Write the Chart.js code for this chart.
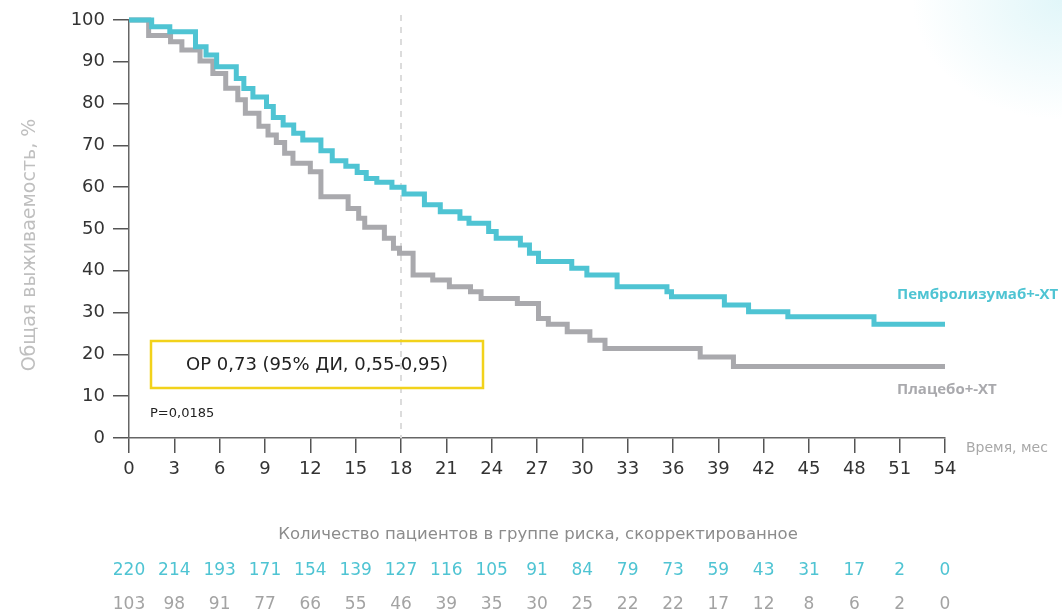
<!DOCTYPE html>
<html>
<head>
<meta charset="utf-8">
<script src="https://cdn.jsdelivr.net/npm/chart.js@4/dist/chart.umd.min.js"></script>
<style>
  html, body { margin: 0; padding: 0; width: 1062px; height: 612px; overflow: hidden;
    background: radial-gradient(ellipse 150px 120px at 1062px 0px, rgba(205,240,245,0.6), rgba(255,255,255,0) 100%), #ffffff; }
  #wrap { position: absolute; left: 0; top: 0; width: 1062px; height: 612px; }
</style>
</head>
<body>
<div id="wrap"><canvas id="c" width="1062" height="612"></canvas></div>
<script>
// ---- data ----
const months = [0,3,6,9,12,15,18,21,24,27,30,33,36,39,42,45,48,51,54];
const yTicks = [0,10,20,30,40,50,60,70,80,90,100];

const pembroTimes = [0,1.5,2.7,4.4,5.1,5.8,7.1,7.6,8.2,9.1,9.55,10.2,10.9,11.5,12.7,13.45,14.35,15.1,15.7,16.4,17.4,18.2,19.55,20.6,21.9,22.5,23.8,24.3,25.9,26.5,27.1,29.3,30.3,32.3,35.6,35.9,39.4,41.0,43.6,49.3,54];
const pembroSurv  = [100,98.4,97.2,93.6,91.6,88.8,86.0,83.6,81.6,79.3,76.7,74.9,72.9,71.3,68.7,66.3,65.0,63.5,62.1,61.2,60.0,58.4,55.8,54.1,52.6,51.4,49.4,47.8,46.2,44.2,42.2,40.6,39.0,36.2,35.0,33.8,31.8,30.2,29.0,27.2,27.2];

const placeboTimes = [0,1.3,2.75,3.5,4.7,5.55,6.4,7.2,7.7,8.6,9.2,9.75,10.3,10.85,12.0,12.7,14.5,15.2,15.6,16.9,17.5,17.9,18.8,20.1,21.2,22.6,23.3,25.7,27.1,27.75,29.0,30.5,31.5,37.8,40.0,54];
const placeboSurv  = [100,96.3,94.8,92.8,90.2,87.2,83.7,80.9,77.7,74.6,72.5,70.7,68.1,65.7,63.7,57.7,54.9,52.6,50.4,47.8,45.4,44.2,39.0,37.8,36.2,35.0,33.4,32.2,28.6,27.2,25.4,23.4,21.4,19.4,17.1,17.1];

const riskPembro  = [220,214,193,171,154,139,127,116,105,91,84,79,73,59,43,31,17,2,0];
const riskPlacebo = [103,98,91,77,66,55,46,39,35,30,25,22,22,17,12,8,6,2,0];

const landmarkMonth = 18;
const seriesNames = ['Пембролизумаб+-ХТ', 'Плацебо+-ХТ'];
const yTitle = 'Общая выживаемость, %';
const xTitle = 'Время, мес';
const riskTitle = 'Количество пациентов в группе риска, скорректированное';
const hrText = 'ОР 0,73 (95% ДИ, 0,55-0,95)';
const pText = 'P=0,0185';

// ---- style ----
const TEAL = '#4fc4d3';
const GRAY = '#a9a9ad';
const FONT = '"DejaVu Sans", "Noto Sans", sans-serif';
const LABEL_FONT = '"Open Sans", "Noto Sans", sans-serif';

const toPts = (xs, ys) => xs.map((t, i) => ({ x: t, y: ys[i] }));

const extras = {
  id: 'extras',
  beforeDatasetsDraw(chart) {
    const { ctx, scales: { x, y } } = chart;
    const px = x.getPixelForValue(landmarkMonth);
    ctx.save();
    ctx.strokeStyle = '#dcdcdc';
    ctx.lineWidth = 2;
    ctx.setLineDash([6, 6]);
    ctx.beginPath();
    ctx.moveTo(px, y.getPixelForValue(100) - 5);
    ctx.lineTo(px, y.getPixelForValue(0));
    ctx.stroke();
    ctx.restore();
  },
  afterDraw(chart) {
    const { ctx, scales: { x, y } } = chart;
    ctx.save();
    // y title
    ctx.translate(30, 245);
    ctx.rotate(-Math.PI / 2);
    ctx.fillStyle = '#bfbfbf';
    ctx.font = '19px ' + FONT;
    ctx.textAlign = 'center';
    ctx.textBaseline = 'middle';
    ctx.fillText(yTitle, 0, 0);
    ctx.restore();

    ctx.save();
    ctx.textBaseline = 'middle';
    // x title
    ctx.fillStyle = '#a8a8a8';
    ctx.font = '14px ' + FONT;
    ctx.textAlign = 'left';
    ctx.fillText(xTitle, 966, 448);

    // series labels
    ctx.font = 'bold 15px ' + LABEL_FONT;
    ctx.fillStyle = TEAL;
    ctx.fillText(seriesNames[0], 897, 295);
    ctx.fillStyle = GRAY;
    ctx.fillText(seriesNames[1], 897, 390);

    // HR box
    ctx.strokeStyle = '#f2d21b';
    ctx.lineWidth = 2.5;
    ctx.strokeRect(151, 341, 332, 47);
    ctx.fillStyle = '#222';
    ctx.font = '18px ' + FONT;
    ctx.textAlign = 'center';
    ctx.fillText(hrText, 317, 365);
    ctx.font = '13px ' + FONT;
    ctx.textAlign = 'left';
    ctx.fillStyle = '#222';
    ctx.fillText(pText, 150, 414);

    // risk table
    ctx.textAlign = 'center';
    ctx.font = '16.5px ' + FONT;
    ctx.fillStyle = '#8c8c8c';
    ctx.fillText(riskTitle, 538, 535);
    ctx.font = '17px ' + FONT;
    months.forEach((m, i) => {
      const px = x.getPixelForValue(m);
      ctx.fillStyle = TEAL;
      ctx.fillText(String(riskPembro[i]), px, 571);
      ctx.fillStyle = '#a3a3a3';
      ctx.fillText(String(riskPlacebo[i]), px, 605);
    });
    ctx.restore();
  }
};

new Chart(document.getElementById('c'), {
  type: 'line',
  data: {
    datasets: [
      { label: seriesNames[0], data: toPts(pembroTimes, pembroSurv), borderColor: TEAL, borderWidth: 5,
        stepped: 'before', pointRadius: 0, fill: false, clip: false, borderCapStyle: 'butt', borderJoinStyle: 'miter' },
      { label: seriesNames[1], data: toPts(placeboTimes, placeboSurv), borderColor: GRAY, borderWidth: 5,
        stepped: 'before', pointRadius: 0, fill: false, clip: false, borderCapStyle: 'butt', borderJoinStyle: 'miter' }
    ]
  },
  options: {
    responsive: false,
    animation: false,
    events: [],
    layout: { padding: { left: 0, right: 117, top: 20, bottom: 0 } },
    plugins: { legend: { display: false }, tooltip: { enabled: false }, title: { display: false } },
    scales: {
      x: {
        type: 'linear', min: 0, max: 54,
        afterFit(s) { s.height = 174; },
        afterBuildTicks(s) { s.ticks = months.map(v => ({ value: v })); },
        grid: { drawOnChartArea: false, drawTicks: true, tickLength: 15, color: '#555', lineWidth: 1.5 },
        border: { display: true, color: '#666', width: 1.5 },
        ticks: { color: '#333', font: { family: FONT, size: 18 }, padding: 6, maxRotation: 0, autoSkip: false }
      },
      y: {
        type: 'linear', min: 0, max: 100,
        afterFit(s) { s.width = 129; },
        afterBuildTicks(s) { s.ticks = yTicks.map(v => ({ value: v })); },
        grid: { drawOnChartArea: false, drawTicks: true, tickLength: 16, color: '#555', lineWidth: 1.5 },
        border: { display: true, color: '#666', width: 1.5 },
        ticks: { color: '#333', font: { family: FONT, size: 18 }, padding: 8 }
      }
    }
  },
  plugins: [extras]
});
</script>
</body>
</html>
